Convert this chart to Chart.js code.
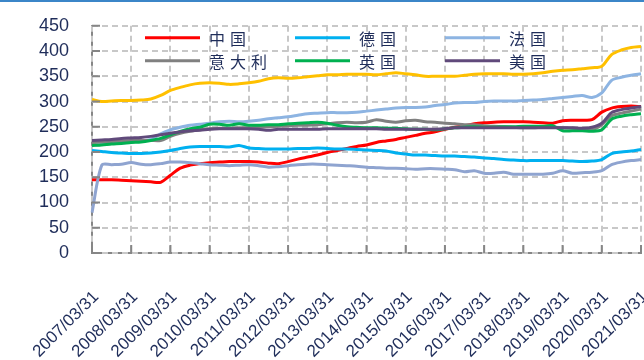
<!DOCTYPE html>
<html>
<head>
<meta charset="utf-8">
<script src="https://cdn.jsdelivr.net/npm/chart.js@4/dist/chart.umd.min.js"></script>
<style>
  html, body { margin: 0; padding: 0; background: #fff; }
  .wrap { position: relative; width: 644px; height: 360px; }
  .topline { position: absolute; left: 0; top: 0; width: 644px; height: 2px; background: #3b86c8; }
</style>
</head>
<body>
<div class="wrap">
  <canvas id="chart" width="644" height="360"></canvas>
  <div class="topline"></div>
</div>
<script>
// quarter-end dates, 2007/03/31 .. 2021/03/31
const quarters = [];
for (let yr = 2007; yr <= 2021; yr++) {
    for (const md of ["03/31", "06/30", "09/30", "12/31"]) {
        if (yr === 2021 && md !== "03/31") break;
        quarters.push(yr + "/" + md);
    }
}

const china = [145,145,145,144,143,142,141,140,154,168, 174,177,179,180,181,181,181,180,178,177,
    181,186,190,194,199,203,207,211,214,219, 222,225,229,233,237,240,245,249,252,256,
    258,259,260,260,260,259,258,257,262,263, 263,264,279,287,290,291,290];
const germany = [203,201,199,198,197,197,198,200,203,207, 210,211,211,211,210,213,208,207,206,206,
    206,207,207,208,207,206,206,205,204,203, 202,198,196,194,194,193,192,192,191,190,
    188,187,185,184,183,183,183,183,183,182, 181,182,185,197,200,202,205];
const france = [213,215,217,218,220,222,225,236,244,249, 253,255,257,260,261,260,261,263,266,268,
    270,273,276,277,278,278,278,279,281,283, 285,287,288,288,289,292,294,297,298,298,
    300,301,301,301,302,303,304,306,308,310, 312,308,317,342,348,352,355];
const italy = [219,220,221,222,223,223,223,223,231,237, 241,244,246,247,247,248,248,249,250,251,
    252,253,253,254,256,258,259,258,259,264, 261,259,262,263,260,259,257,256,254,254,
    252,251,250,249,248,248,249,249,248,247, 246,244,254,272,277,281,285];
const uk = [213,214,216,217,219,220,223,227,234,241, 246,249,255,255,253,256,253,253,254,254,
    256,257,258,259,257,253,250,249,248,248, 247,247,246,245,245,244,246,248,249,250,
    249,249,250,250,251,251,251,252,242,242, 242,241,244,265,271,274,276];
const us = [223,224,225,227,228,229,231,234,237,240, 242,243,245,246,246,246,246,245,243,245,
    245,245,245,245,246,246,246,246,246,246, 245,245,245,245,245,245,246,248,248,248,
    248,248,248,248,248,248,248,248,248,248, 247,249,257,278,284,287,290];
const japan = [304,300,301,302,302,303,305,312,322,328, 333,336,337,336,334,335,337,340,345,347,
    346,347,349,351,353,353,354,354,354,353, 355,357,355,353,350,350,350,350,352,354,
    355,355,355,354,354,355,357,360,362,363, 365,367,370,393,402,407,409];
const other = [80,174,175,176,179,176,175,177,180,180, 179,177,175,174,173,174,175,173,170,171,
    173,175,176,176,175,174,173,172,170,169, 168,168,167,166,167,167,166,165,161,163,
    158,158,160,156,156,156,156,158,163,158, 159,160,163,175,180,183,185];

const seriesNames = ["中国", "德国", "法国", "意大利", "英国", "美国", "日本", "其他"];
const seriesData = [china, germany, france, italy, uk, us, japan, other];
const seriesColors = ["#ff0000", "#00b0f0", "#8db4e2", "#808080", "#00b050", "#604a7b", "#ffc000", "#8fa4d0"];
// only the first six go into the legend box
const legendNames = ["中国", "德国", "法国", "意大利", "英国", "美国"];

const textColor = "#1f2d5a";
const axisColor = "#868686";
const gridColor = "#c8c8c8";

// x positions of the yearly ticks (every 4th quarter)
function yearPixels(xScale) {
    const out = [];
    quarters.forEach((q, i) => {
        if (i % 4 === 0) out.push(xScale.getPixelForValue(i));
    });
    return out;
}

// dashed grid behind the lines, short tick marks pointing into the plot
const frame = {
    id: "frame",
    beforeDatasetsDraw(chart) {
        const { ctx, chartArea, scales } = chart;
        ctx.save();
        ctx.strokeStyle = gridColor;
        ctx.lineWidth = 2;
        ctx.setLineDash([6, 4]);
        ctx.beginPath();
        yearPixels(scales.x).forEach((px) => {
            ctx.moveTo(Math.round(px), chartArea.top);
            ctx.lineTo(Math.round(px), chartArea.bottom);
        });
        scales.y.ticks.forEach((t) => {
            const py = Math.round(scales.y.getPixelForValue(t.value));
            ctx.moveTo(chartArea.left, py);
            ctx.lineTo(chartArea.right, py);
        });
        ctx.stroke();
        ctx.restore();
    },
    afterDraw(chart) {
        const { ctx, chartArea, scales } = chart;
        ctx.save();
        ctx.strokeStyle = axisColor;
        ctx.lineWidth = 2;
        ctx.beginPath();
        yearPixels(scales.x).forEach((px) => {
            ctx.moveTo(px, chartArea.bottom);
            ctx.lineTo(px, chartArea.bottom - 8);
        });
        scales.y.ticks.forEach((t) => {
            const py = scales.y.getPixelForValue(t.value);
            ctx.moveTo(chartArea.left, py);
            ctx.lineTo(chartArea.left + 8, py);
        });
        ctx.stroke();
        ctx.restore();
    },
};

// 3 x 2 legend inside the top of the plot
const boxLegend = {
    id: "boxLegend",
    afterDatasetsDraw(chart) {
        const { ctx, chartArea } = chart;
        ctx.save();
        ctx.font = '16px "Noto Sans CJK SC"';
        ctx.textBaseline = "middle";
        legendNames.forEach((name, k) => {
            const ds = chart.data.datasets.find((d) => d.label === name);
            const col = k % 3, row = Math.floor(k / 3);
            const x0 = chartArea.left + 53 + col * 150;
            const y0 = chartArea.top + 12 + row * 23;
            ctx.strokeStyle = ds.borderColor;
            ctx.lineWidth = 3;
            ctx.beginPath();
            ctx.moveTo(x0, y0);
            ctx.lineTo(x0 + 55, y0);
            ctx.stroke();
            ctx.fillStyle = textColor;
            [...name].forEach((ch, j) => ctx.fillText(ch, x0 + 64 + j * 21, y0 + 1));
        });
        ctx.restore();
    },
};

const ctx = document.getElementById("chart").getContext("2d");
new Chart(ctx, {
    type: "line",
    data: {
        labels: quarters,
        datasets: seriesNames.map((name, i) => ({
            label: name,
            data: seriesData[i],
            borderColor: seriesColors[i],
            backgroundColor: seriesColors[i],
            borderWidth: 3,
            pointRadius: 0,
            tension: 0.3,
            fill: false,
            order: 10 - i,
        })),
    },
    options: {
        responsive: false,
        animation: false,
        layout: { padding: { top: 19, right: 3, left: 0, bottom: 0 } },
        plugins: {
            legend: { display: false },
            tooltip: { enabled: false },
        },
        scales: {
            x: {
                grid: { display: false },
                border: { display: true, color: axisColor, width: 2 },
                ticks: {
                    autoSkip: false,
                    minRotation: 45,
                    maxRotation: 45,
                    padding: 26,
                    labelOffset: 4,
                    color: textColor,
                    font: { family: "'Liberation Sans', Arial, sans-serif", size: 17 },
                    callback: (v, i) => (i % 4 === 0 ? quarters[i] : ""),
                },
                afterFit: (s) => {
                    s.height = 107;
                    s.paddingLeft = 0;
                    s.paddingRight = 0;
                },
            },
            y: {
                min: 0,
                max: 450,
                grid: { display: false },
                border: { display: true, color: axisColor, width: 2 },
                ticks: {
                    stepSize: 50,
                    padding: 15,
                    color: textColor,
                    font: { family: "'Liberation Sans', Arial, sans-serif", size: 18 },
                },
                afterFit: (s) => { s.width = 92; },
            },
        },
    },
    plugins: [frame, boxLegend],
});
</script>
</body>
</html>
